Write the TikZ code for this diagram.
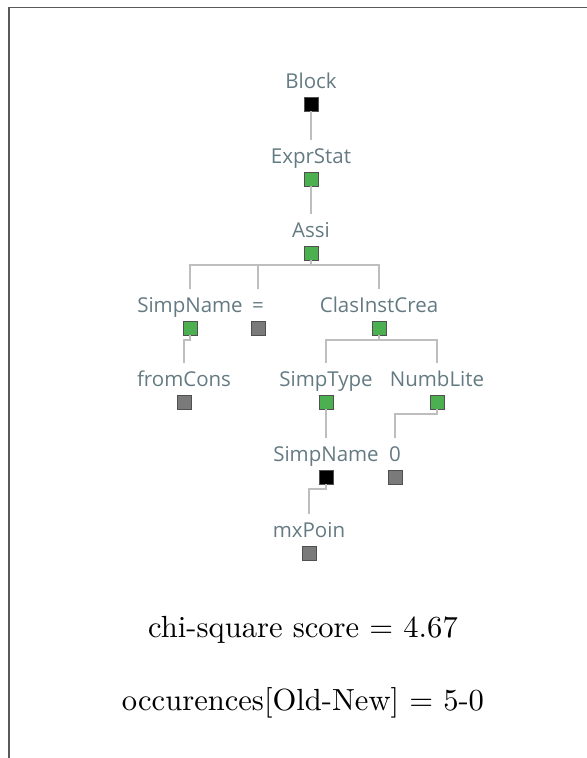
\documentclass[tikz,border=0pt]{standalone}
\usepackage{fontspec}
\usepackage{tikz}
\usetikzlibrary{positioning}
\newfontfamily\treefont{Open Sans}
\definecolor{sqgreen}{RGB}{76,175,80}
\definecolor{sqgray}{RGB}{122,122,122}
\definecolor{lblcol}{RGB}{100,122,130}
\definecolor{conncol}{RGB}{190,190,190}

\begin{document}
\begin{tikzpicture}[
  x=0.327pt, y=-0.327pt,
  sq/.style={rectangle, draw={rgb,255:red,80;green,80;blue,80}, line width=0.3pt, inner sep=0pt, outer sep=0pt, minimum size=4.6pt},
  gsq/.style={sq, fill=sqgreen},
  ksq/.style={sq, fill=black},
  dsq/.style={sq, fill=sqgray},
  lbl/.style={font=\treefont\fontsize{6.7}{8}\selectfont, text=lblcol, inner sep=0pt, text depth=0pt, label distance=2.6pt},
  conn/.style={draw=conncol, line width=0.5pt},
  every label/.style={lbl}
]
\useasboundingbox (0,0) rectangle (587,758);

% marco
\draw[line width=0.4pt, draw={rgb,255:red,90;green,90;blue,90}] (9,758) -- (9,7.5) -- (587,7.5);

% --- Arbol ---
\node[ksq, label={above:Block}]        (blk) at (311,104) {};
\node[gsq, label={above:ExprStat}]     (exs) at (311,179) {};
\node[gsq, label={above:Assi}]         (asi) at (311,253) {};
\node[gsq, label={above:SimpName}]     (sna) at (190,328) {};
\node[dsq, label={above:=}]            (eq)  at (258,328) {};
\node[gsq, label={above:ClasInstCrea}] (cic) at (379,328) {};
\node[dsq, label={above:fromCons}]     (fcn) at (184,402) {};
\node[gsq, label={above:SimpType}]     (spt) at (326,402) {};
\node[gsq, label={above:NumbLite}]     (nbl) at (437,402) {};
\node[ksq, label={above:SimpName}]     (snb) at (326,477) {};
\node[dsq, label={above:0}]            (zro) at (395,477) {};
\node[dsq, label={above:mxPoin}]       (mxp) at (309,553) {};

% conexiones
\draw[conn] (blk.south) -- ([yshift=10.5pt]exs.north);
\draw[conn] (exs.south) -- ([yshift=10.5pt]asi.north);
\draw[conn] (asi.south) -- ++(0,5) -| ([yshift=10.5pt]sna.north);
\draw[conn] (asi.south) -- ++(0,5) -| ([yshift=10.5pt]eq.north);
\draw[conn] (asi.south) -- ++(0,5) -| ([yshift=10.5pt]cic.north);
\draw[conn] (sna.south) -- ++(0,5) -| ([yshift=10.5pt]fcn.north);
\draw[conn] (cic.south) -- ++(0,5) -| ([yshift=10.5pt]spt.north);
\draw[conn] (cic.south) -- ++(0,5) -| ([yshift=10.5pt]nbl.north);
\draw[conn] (spt.south) -- ([yshift=10.5pt]snb.north);
\draw[conn] (nbl.south) -- ++(0,5) -| ([yshift=10.5pt]zro.north);
\draw[conn] (snb.south) -- ++(0,5) -| ([yshift=10.5pt]mxp.north);

% --- Textos ---
\node[anchor=base] (chi) at (303,637) {chi-square score $=$ 4.67};
\node[anchor=base] (occ) at (303,710) {occurences[Old-New] $=$ 5-0};
\end{tikzpicture}
\end{document}
